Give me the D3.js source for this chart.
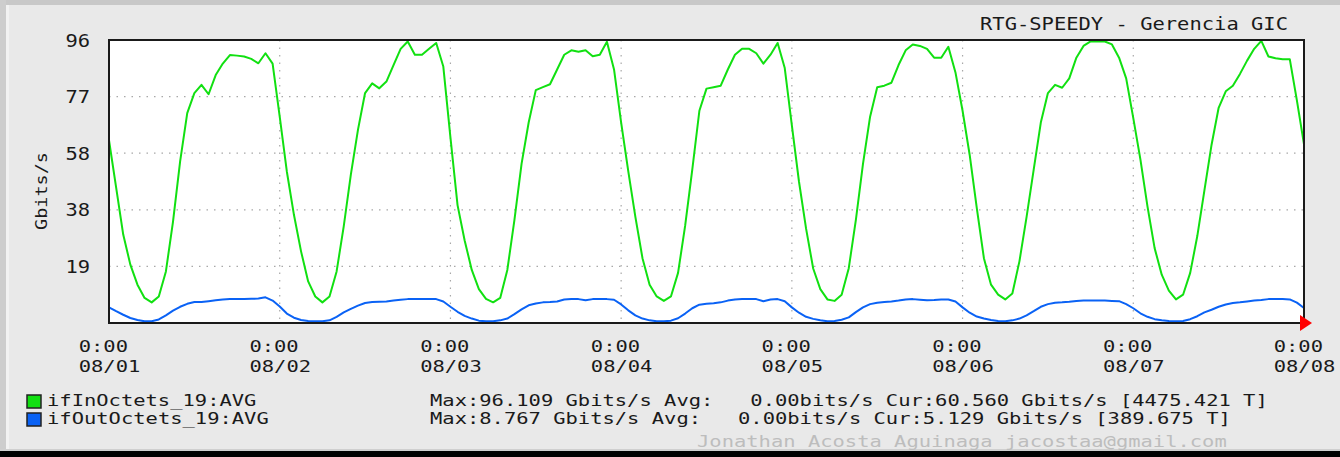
<!DOCTYPE html>
<html lang="en">
<head>
  <meta charset="UTF-8">
  <title>rtg-speedy</title>
  <script src="https://d3js.org/d3.v7.min.js"></script>
  <style>
    body {
      margin: 0;
      padding: 0;
      background: #e9e9e9;
    }
    #graph {
      width: 1340px;
      height: 457px;
    }
    text {
      font-family: "DejaVu Sans Mono", "Liberation Mono", monospace;
      fill: #1a1a1a;
      white-space: pre;
    }
  </style>
</head>
<body>
  <div id="graph"></div>
</body>
<script>
  // hourly samples, 08/01 0:00 .. 08/08 0:00 (169 points), Gbits/s
  const inOctets = [
    // 08/01
    62, 46, 30, 19.8, 13, 8.5, 7, 9, 17.5, 34.4, 54.8, 71.2, 78, 80.8, 77.6, 84.1, 88, 90.9, 90.7, 90.4, 89.6, 88.1, 91.5, 88,
    // 08/02
    70, 51.4, 36.7, 24.3, 14.1, 9, 7, 9, 17.5, 32.8, 50.3, 65.5, 78, 81.3, 79.6, 81.9, 87.5, 93, 95.5, 91, 91, 93, 95, 87,
    // 08/03
    63, 40, 28, 18, 11.5, 8.2, 7, 8.5, 18, 35, 54, 68, 79, 80, 81, 86, 91, 92.5, 92, 92.5, 90.5, 91, 95.4, 86,
    // 08/04
    68, 51.5, 36, 22, 13, 9, 7.5, 9, 17, 33, 52, 72, 79.5, 80, 80.5, 86, 91, 93, 93, 91.5, 88, 91, 95, 86.5,
    // 08/05
    67, 48, 32, 18.5, 11.5, 8, 7.5, 9.6, 18.6, 35, 54, 70, 80, 80.5, 81.5, 87.5, 92.5, 94.5, 94, 93, 90, 90, 93.7, 85,
    // 08/06
    72, 57, 39, 22, 13, 9.6, 8, 10, 21, 36, 52, 68, 78, 80.8, 79.8, 83, 90, 94, 95.5, 95.5, 95.5, 94.5, 90, 83,
    // 08/07
    69.5, 55.5, 39.5, 25.4, 16.4, 11, 8, 9.6, 17, 29.5, 45, 60.4, 73, 78.6, 80.5, 84.5, 89, 93, 95.7, 90.4, 89.8, 89.5, 89.5, 75.5,
    // 08/08 0:00
    60.6
  ]
  const outOctets = [
    5.3, 4.0, 2.8, 1.7, 1.0, 0.6, 0.6, 1.2, 2.6, 4.2, 5.5, 6.5, 7.1, 7.1, 7.4, 7.7, 8.0, 8.1, 8.1, 8.1, 8.2, 8.3, 8.7, 7.6,
    5.6, 3.2, 1.8, 1.0, 0.7, 0.6, 0.6, 0.9, 2.1, 3.6, 4.8, 5.9, 6.8, 7.1, 7.2, 7.3, 7.6, 7.9, 8.1, 8.1, 8.1, 8.1, 8.1, 7.3,
    5.5, 3.8, 2.4, 1.5, 0.8, 0.6, 0.6, 0.9, 1.5, 3.0, 4.6, 6.0, 6.6, 7.0, 7.1, 7.3, 8.0, 8.1, 8.1, 7.7, 8.1, 8.1, 8.1, 7.9,
    6.3, 4.3, 2.6, 1.5, 0.9, 0.6, 0.6, 0.8, 1.6, 3.2, 5.0, 6.2, 6.5, 6.7, 7.0, 7.6, 8.0, 8.1, 8.1, 8.1, 7.4, 8.0, 8.1, 7.4,
    5.3, 3.5, 2.1, 1.4, 0.9, 0.6, 0.7, 1.1, 1.9, 3.7, 5.3, 6.4, 6.9, 7.1, 7.3, 7.6, 8.0, 8.1, 7.9, 7.7, 7.8, 8.0, 8.0, 7.3,
    5.3, 3.5, 2.2, 1.5, 1.0, 0.7, 0.6, 0.9, 1.5, 2.6, 4.0, 5.5, 6.4, 6.9, 7.0, 7.2, 7.5, 7.6, 7.6, 7.6, 7.6, 7.5, 7.4, 6.4,
    5.0, 3.3, 2.1, 1.3, 0.9, 0.7, 0.6, 0.7, 1.3, 2.3, 3.6, 4.5, 5.5, 6.3, 6.8, 7.0, 7.3, 7.6, 7.8, 8.1, 8.1, 8.1, 8.0, 6.9,
    5.1
  ]
  const yTicks = [19.2, 38.4, 57.6, 76.8, 96]
  const dayLabels = ['08/01', '08/02', '08/03', '08/04', '08/05', '08/06', '08/07', '08/08']
  const legendNames = ['ifInOctets_19:AVG', 'ifOutOctets_19:AVG']
  const legendStats = [
    'Max:96.109 Gbits/s Avg:   0.00bits/s Cur:60.560 Gbits/s [4475.421 T]',
    'Max:8.767 Gbits/s Avg:   0.00bits/s Cur:5.129 Gbits/s [389.675 T]'
  ]
  const colors = ['#11e011', '#0a62f5']

  const width = 1340
  const height = 457
  const margin = { top: 40, right: 36, bottom: 134, left: 109 }
  const cw = 12.32   // stretched char cell

  const start = new Date(2020, 7, 1)
  const end = d3.timeDay.offset(start, 7)
  const x = d3.scaleTime().domain([start, end]).range([margin.left, width - margin.right])
  const y = d3.scaleLinear().domain([0, 96]).range([height - margin.bottom, margin.top])

  const svg = d3.select('#graph')
    .append('svg')
    .attr('width', width)
    .attr('height', height)
    .attr('viewBox', `0, 0, ${width}, ${height}`)

  // frame
  svg.append('rect').attr('width', width).attr('height', height).attr('fill', '#e9e9e9')
  svg.append('rect').attr('width', width).attr('height', 5).attr('fill', '#c8c8c8')
  svg.append('rect').attr('width', 6).attr('height', height).attr('fill', '#cdcdcd')
  svg.append('rect').attr('x', 6).attr('y', 5).attr('width', 3).attr('height', height).attr('fill', '#f2f2f2')
  svg.append('rect').attr('y', 449).attr('width', width).attr('height', 2).attr('fill', '#cfcfcf')
  svg.append('rect').attr('y', 451).attr('width', width).attr('height', 6).attr('fill', '#000')

  function mono(g, str, px, py, size, anchor, fill) {
    return g.append('text')
      .attr('x', px)
      .attr('y', py)
      .attr('font-size', size)
      .attr('text-anchor', anchor || 'start')
      .attr('textLength', str.length * cw)
      .attr('lengthAdjust', 'spacingAndGlyphs')
      .attr('xml:space', 'preserve')
      .style('fill', fill || '#1a1a1a')
      .text(str)
  }

  // plot area
  svg.append('rect')
    .attr('x', margin.left)
    .attr('y', margin.top)
    .attr('width', width - margin.left - margin.right)
    .attr('height', height - margin.top - margin.bottom)
    .attr('fill', '#fff')

  // grid
  const grid = svg.append('g').attr('stroke', '#a8a8a8').attr('stroke-width', 1.2).attr('stroke-dasharray', '1.5,6')
  grid.selectAll('line.h')
    .data(yTicks.slice(0, -1))
    .join('line')
    .attr('x1', margin.left).attr('x2', width - margin.right)
    .attr('y1', d => y(d)).attr('y2', d => y(d))
  grid.selectAll('line.v')
    .data(d3.timeDay.range(d3.timeDay.offset(start, 1), end))
    .join('line')
    .attr('x1', d => x(d)).attr('x2', d => x(d))
    .attr('y1', margin.top).attr('y2', height - margin.bottom)

  const hours = d3.range(inOctets.length).map(i => d3.timeHour.offset(start, i))
  const line = d3.line()
    .x((d, i) => x(hours[i]))
    .y(d => y(d))

  ;[outOctets, inOctets].forEach((s, k) => {
    svg.append('path')
      .datum(s)
      .attr('fill', 'none')
      .attr('stroke', colors[1 - k])
      .attr('stroke-width', 2)
      .attr('stroke-linejoin', 'round')
      .attr('d', line)
  })

  // border
  svg.append('rect')
    .attr('x', margin.left)
    .attr('y', margin.top)
    .attr('width', width - margin.left - margin.right)
    .attr('height', height - margin.top - margin.bottom)
    .attr('fill', 'none')
    .attr('stroke', '#1a1a1a')
    .attr('stroke-width', 2)

  // arrow at x axis end
  const x1 = width - margin.right
  const y0 = height - margin.bottom
  svg.append('path')
    .attr('d', `M${x1 - 4},${y0 - 8}L${x1 + 8},${y0}L${x1 - 4},${y0 + 8}Z`)
    .attr('fill', '#ff0000')

  // y axis labels
  const yAxis = svg.append('g')
    .attr('transform', `translate(${margin.left},0)`)
    .call(d3.axisLeft(y).tickValues(yTicks).tickFormat(d3.format('.0f')).tickSize(0).tickPadding(19))
  yAxis.select('.domain').remove()
  yAxis.selectAll('text')
    .attr('font-size', 17)
    .attr('font-family', null)
    .attr('dy', '0.36em')
    .attr('textLength', d => d3.format('.0f')(d).length * cw)
    .attr('lengthAdjust', 'spacingAndGlyphs')
    .style('fill', '#1a1a1a')

  mono(svg, 'Gbits/s', 0, 0, 16, 'middle')
    .attr('transform', 'translate(47,191) rotate(-90)')
    .attr('textLength', 78)

  // x axis labels
  const xAxis = svg.append('g')
    .attr('transform', `translate(0,${y0})`)
    .call(d3.axisBottom(x).ticks(d3.timeDay.every(1)).tickSize(0).tickFormat(''))
  xAxis.select('.domain').remove()
  xAxis.selectAll('.tick').each(function (d, i) {
    const t = d3.select(this)
    const lx = -2.5 * cw
    mono(t, '0:00', lx, 29, 16.5)
    mono(t, dayLabels[i], lx, 49, 16.5)
  })

  // title
  mono(svg, 'RTG-SPEEDY - Gerencia GIC', 1288, 30, 18, 'end')

  // legend
  legendNames.forEach((n, i) => {
    const ly = 406 + i * 18
    svg.append('rect')
      .attr('x', 27).attr('y', ly - 11)
      .attr('width', 14).attr('height', 13)
      .attr('fill', colors[i])
      .attr('stroke', '#222')
      .attr('stroke-width', 1.5)
    mono(svg, n, 47, ly, 16.5)
    mono(svg, legendStats[i], 430, ly, 16.5)
  })

  mono(svg, 'Jonathan Acosta Aguinaga jacostaa@gmail.com', 697, 447, 16.5, 'start', '#bdbdbd')
</script>
</html>
